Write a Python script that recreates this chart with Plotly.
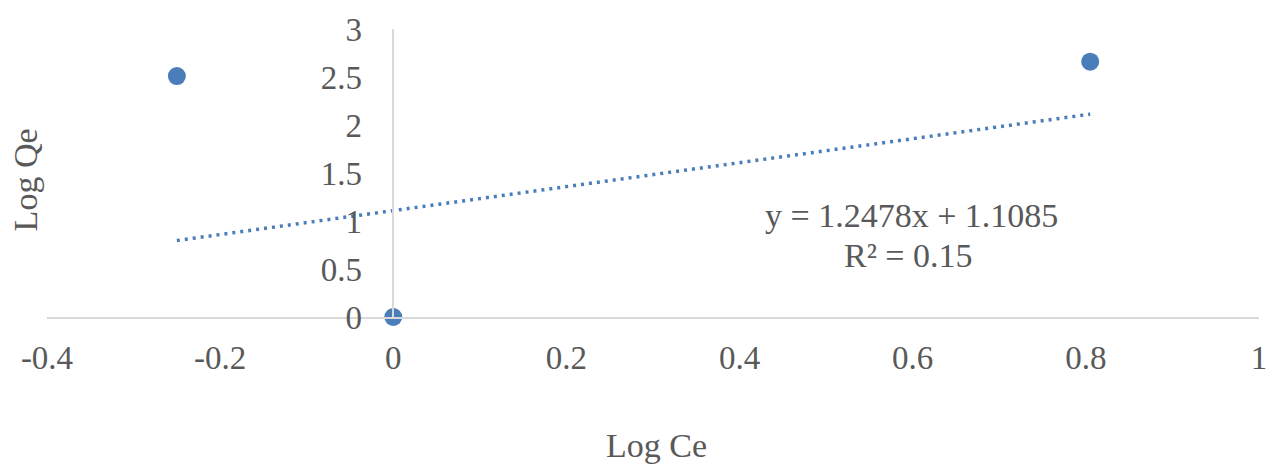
import numpy as np
import plotly.graph_objects as go

# Observed data
log_ce = [-0.25, 0.0, 0.805]
log_qe = [2.51, 0.0, 2.66]

# Linear trendline reported for the series
slope = 1.2478
intercept = 1.1085
r_squared = 0.15

x_ticks = [-0.4, -0.2, 0, 0.2, 0.4, 0.6, 0.8, 1]
x_tick_text = ["-0.4", "-0.2", "0", "0.2", "0.4", "0.6", "0.8", "1"]
y_ticks = [0, 0.5, 1, 1.5, 2, 2.5, 3]
y_tick_text = ["0", "0.5", "1", "1.5", "2", "2.5", "3"]

X_RANGE = [-0.4, 1.0]
Y_RANGE = [0, 3]

BLUE = "#4a7ebb"
TEXT = "#595959"
AXIS = "#d9d9d9"
FONT = "Liberation Serif"

trend_x = np.array([min(log_ce), max(log_ce)])
trend_y = slope * trend_x + intercept

fig = go.Figure()

fig.add_trace(go.Scatter(
    x=trend_x, y=trend_y, mode="lines",
    line=dict(color=BLUE, width=3.5, dash="3px,5px"),
    hoverinfo="skip", showlegend=False,
))

fig.add_trace(go.Scatter(
    x=log_ce, y=log_qe, mode="markers",
    marker=dict(color=BLUE, size=18),
    cliponaxis=False, showlegend=False,
))

# y axis crosses the x axis at x = 0
y_axis_pos = (0 - X_RANGE[0]) / (X_RANGE[1] - X_RANGE[0])

fig.update_layout(
    width=1279, height=465,
    margin=dict(l=47, r=17, t=27, b=148),
    plot_bgcolor="white", paper_bgcolor="white",
    font=dict(family=FONT, color=TEXT, size=33),
    xaxis=dict(
        range=X_RANGE, tickmode="array", tickvals=x_ticks, ticktext=x_tick_text,
        showgrid=False, zeroline=False, showline=True, linecolor=AXIS, linewidth=1.5,
        ticks="", ticklabelstandoff=11, tickfont=dict(size=33, color=TEXT),
    ),
    yaxis=dict(
        range=Y_RANGE, tickmode="array", tickvals=y_ticks, ticktext=y_tick_text,
        showgrid=False, zeroline=False, showline=True, linecolor=AXIS, linewidth=1.5,
        anchor="free", position=y_axis_pos,
        ticks="", ticklabelstandoff=24, tickfont=dict(size=33, color=TEXT),
    ),
    annotations=[
        dict(text="Log Ce", xref="paper", yref="paper", x=0.503, y=-0.445,
             xanchor="center", yanchor="middle", showarrow=False,
             font=dict(size=34, color=TEXT)),
        dict(text="Log Qe", xref="paper", yref="paper", x=-0.018, y=0.475,
             xanchor="center", yanchor="middle", showarrow=False, textangle=-90,
             font=dict(size=34, color=TEXT)),
        dict(text=f"y = {slope}x + {intercept}", x=0.599, y=1.06,
             xanchor="center", yanchor="middle", showarrow=False,
             font=dict(size=34, color=TEXT)),
        dict(text=f"R² = {r_squared}", x=0.595, y=0.645,
             xanchor="center", yanchor="middle", showarrow=False,
             font=dict(size=34, color=TEXT)),
    ],
)

fig.write_html("out.html")
